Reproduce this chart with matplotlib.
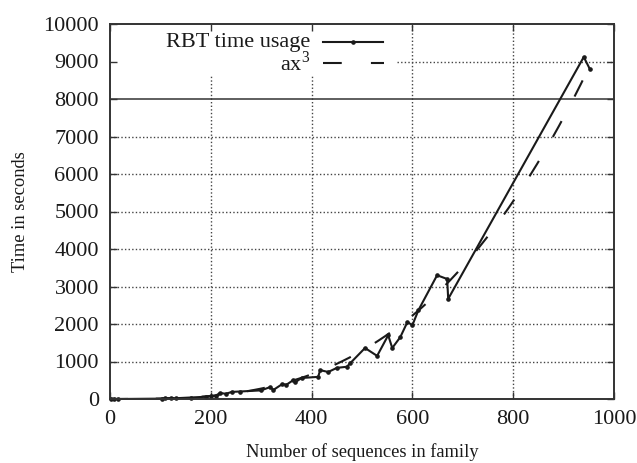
import matplotlib
matplotlib.use("Agg")
import matplotlib.pyplot as plt
import numpy as np
from matplotlib.lines import Line2D

# ---- data ----
seq_counts = [2, 8, 16, 103, 110, 122, 130, 160, 190, 200, 210, 218, 230, 242, 258,
              300, 318, 324, 342, 350, 364, 368, 380, 413, 417, 433, 450, 470, 477,
              506, 530, 552, 560, 576, 590, 600, 612, 649, 669, 671, 940, 952]
rbt_time = [5, 5, 0, 10, 20, 25, 20, 40, 60, 75, 90, 160, 140, 190, 200,
            230, 320, 240, 400, 380, 507, 450, 560, 590, 770, 720, 830, 860, 960,
            1360, 1150, 1700, 1360, 1650, 2050, 1970, 2370, 3300, 3200, 2670, 9120, 8800]
fit_coef = 1.03e-5          # a in a*x^3
fit_range = (0, 953)

x_ticks = [0, 200, 400, 600, 800, 1000]
y_ticks = [0, 1000, 2000, 3000, 4000, 5000, 6000, 7000, 8000, 9000, 10000]
x_label = "Number of sequences in family"
y_label = "Time in seconds"
series_labels = ["RBT time usage", "ax$^3$"]

plt.rcParams['font.family'] = ['Liberation Serif', 'DejaVu Serif']
plt.rcParams['mathtext.fontset'] = 'custom'
plt.rcParams['mathtext.rm'] = 'Liberation Serif'

fig = plt.figure(figsize=(6.37, 4.63), dpi=100)
W, H = 637, 463
L, R, B, T = 110, 614, 399, 24
ax = fig.add_axes([L / W, (H - B) / H, (R - L) / W, (B - T) / H])
ax.set_xlim(0, 1000)
ax.set_ylim(0, 10000)

ink = '#1a1a1a'
lw = 1.5
tick_fs = 16
lab_fs = 13.3

leg_x1 = (397 - L) / (R - L)
leg_y0 = (B - 75) / (B - T)

grid_kw = dict(color='#444444', lw=1.0, linestyle=(0, (1, 1.6)), zorder=1)
for xv in x_ticks[1:-1]:
    xf = xv / 1000
    if xf < leg_x1:
        ax.axvline(xv, ymin=0, ymax=leg_y0, **grid_kw)
    else:
        ax.axvline(xv, **grid_kw)
for yv in y_ticks[1:-1]:
    yf = yv / 10000
    if yv == 8000:
        ax.axhline(yv, color='#333333', lw=1.1, zorder=1)
    elif yf > leg_y0:
        ax.axhline(yv, xmin=leg_x1, xmax=1, **grid_kw)
    else:
        ax.axhline(yv, **grid_kw)

ax.plot(seq_counts, rbt_time, color=ink, lw=lw, marker='o', markersize=2.3,
        zorder=3, clip_on=False)
xf = np.linspace(fit_range[0], fit_range[1], 200)
ax.plot(xf, fit_coef * xf ** 3, color=ink, lw=lw, zorder=3,
        linestyle=(0, (13 / lw, 20 / lw)))

def ax_x(px):
    return (px - L) / (R - L)
def ax_y(py):
    return (B - py) / (B - T)

rows = [42, 63]
for lab, ry in zip(series_labels, rows):
    ax.text(ax_x(310), ax_y(ry), lab, transform=ax.transAxes,
            ha='right', va='center', fontsize=tick_fs, color=ink)
l1 = Line2D([ax_x(323), ax_x(383)], [ax_y(rows[0])] * 2, transform=ax.transAxes,
            color=ink, lw=lw)
m1 = Line2D([ax_x(353)], [ax_y(rows[0])], transform=ax.transAxes, color=ink,
            marker='o', markersize=2.3, lw=0)
l2 = Line2D([ax_x(323), ax_x(384)], [ax_y(rows[1])] * 2, transform=ax.transAxes,
            color=ink, lw=lw, linestyle=(0, (13.5 / lw, 21 / lw)))
for a in (l1, m1, l2):
    ax.add_line(a)

ax.set_xticks(x_ticks)
ax.set_yticks(y_ticks)
ax.set_xticklabels([str(v) for v in x_ticks])
ax.set_yticklabels([str(v) for v in y_ticks])
ax.tick_params(direction='in', length=5, width=1.0, color='#333333',
               top=True, right=True, labelsize=tick_fs, labelcolor=ink)
ax.tick_params(axis='y', pad=8)
ax.tick_params(axis='x', pad=8)
for s in ax.spines.values():
    s.set_linewidth(1.4)
    s.set_color('#333333')
    s.set_zorder(4)

ax.set_xlabel(x_label, fontsize=lab_fs, color=ink, va='center')
ax.set_ylabel(y_label, fontsize=lab_fs, color=ink, va='center')
ax.yaxis.set_label_coords(-(L - 21) / (R - L), 0.5)
ax.xaxis.set_label_coords(0.5, -(452 - B) / (B - T))

fig.savefig("out.png", dpi=100)
